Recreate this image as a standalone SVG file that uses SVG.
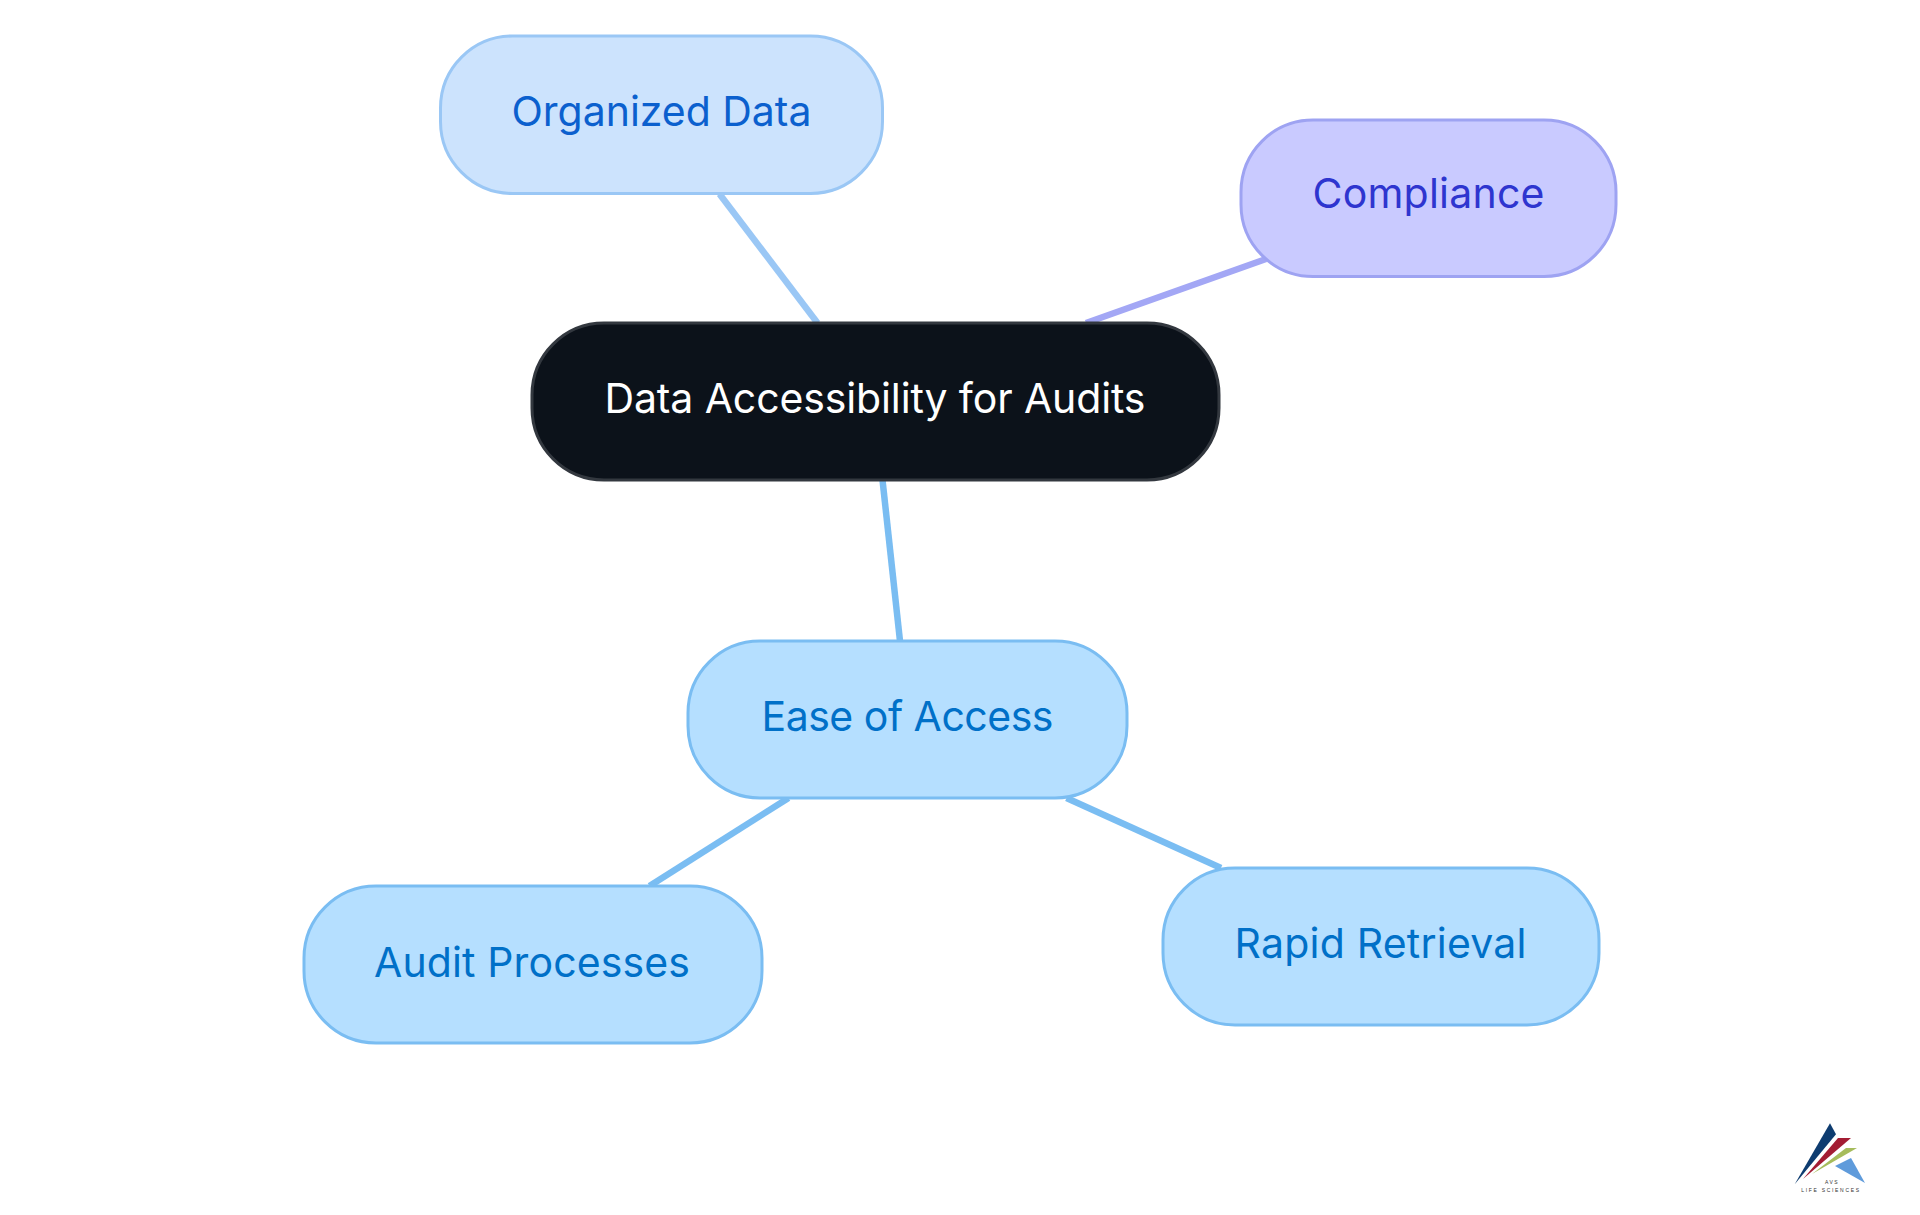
<svg xmlns="http://www.w3.org/2000/svg" width="1920" height="1215" viewBox="0 0 1920 1215">
<style>
.n{stroke-width:3}
.t{font-family:"Inter","Noto Sans",sans-serif;font-size:41px;text-anchor:middle}
.e{fill:none;stroke-width:6.5}
.blue rect{fill:#B5DFFF;stroke:#7ABDF2}
.blue text{fill:#0070C8}
</style>
<rect width="1920" height="1215" fill="#fff"/>
<g id="connectors">
<line class="e" x1="719.5" y1="194" x2="817.5" y2="323" stroke="#9AC7F5"/>
<line class="e" x1="1086" y1="323" x2="1266" y2="259" stroke="#A3A7F5"/>
<line class="e" x1="882.5" y1="480" x2="900" y2="641" stroke="#7ABDF2"/>
<line class="e" x1="788.5" y1="798" x2="649.5" y2="886" stroke="#7ABDF2"/>
<line class="e" x1="1066.5" y1="798" x2="1221" y2="868" stroke="#7ABDF2"/>
</g>
<g id="organized-data"><rect class="n" x="440.500" y="36" width="442" height="157.500" rx="72" fill="#CCE3FD" stroke="#9AC7F5"/><text class="t" x="661.500" y="126" textLength="300" fill="#0B60CE">Organized Data</text></g>
<g id="compliance"><rect class="n" x="1241" y="120" width="375" height="156.500" rx="72" fill="#C9CAFF" stroke="#9EA3F2"/><text class="t" x="1428.500" y="208" textLength="232" fill="#2E35CF">Compliance</text></g>
<g id="central"><rect class="n" x="532" y="323" width="687" height="157" rx="72" fill="#0C121A" stroke="#33383F"/><text class="t" x="875" y="413" textLength="541" fill="#FFFFFF">Data Accessibility for Audits</text></g>
<g id="ease-of-access" class="blue"><rect class="n" x="688" y="641" width="439" height="157" rx="72"/><text class="t" x="907.500" y="731" textLength="292">Ease of Access</text></g>
<g id="audit-processes" class="blue"><rect class="n" x="304" y="886" width="458" height="157" rx="72"/><text class="t" x="532" y="977" textLength="316">Audit Processes</text></g>
<g id="rapid-retrieval" class="blue"><rect class="n" x="1163" y="868" width="436" height="157" rx="72"/><text class="t" x="1380.500" y="958" textLength="292">Rapid Retrieval</text></g>
<g id="logo">
<polygon points="1794.7,1184.3 1830,1123.3 1836,1134.3" fill="#0E3C70"/>
<polygon points="1803,1179 1838,1138 1851,1138" fill="#A31C33"/>
<polygon points="1812,1174 1846,1148 1857,1148" fill="#A6BC5C"/>
<polygon points="1835,1166 1851,1158 1865,1183" fill="#5F9BDB"/>
<text x="1832" y="1184" font-family="'Liberation Sans',sans-serif" font-size="5" letter-spacing="1.5" text-anchor="middle" fill="#333">AVS</text>
<text x="1831" y="1191.500" font-family="'Liberation Sans',sans-serif" font-size="5" letter-spacing="1.700" text-anchor="middle" fill="#333">LIFE SCIENCES</text>
</g>
</svg>
